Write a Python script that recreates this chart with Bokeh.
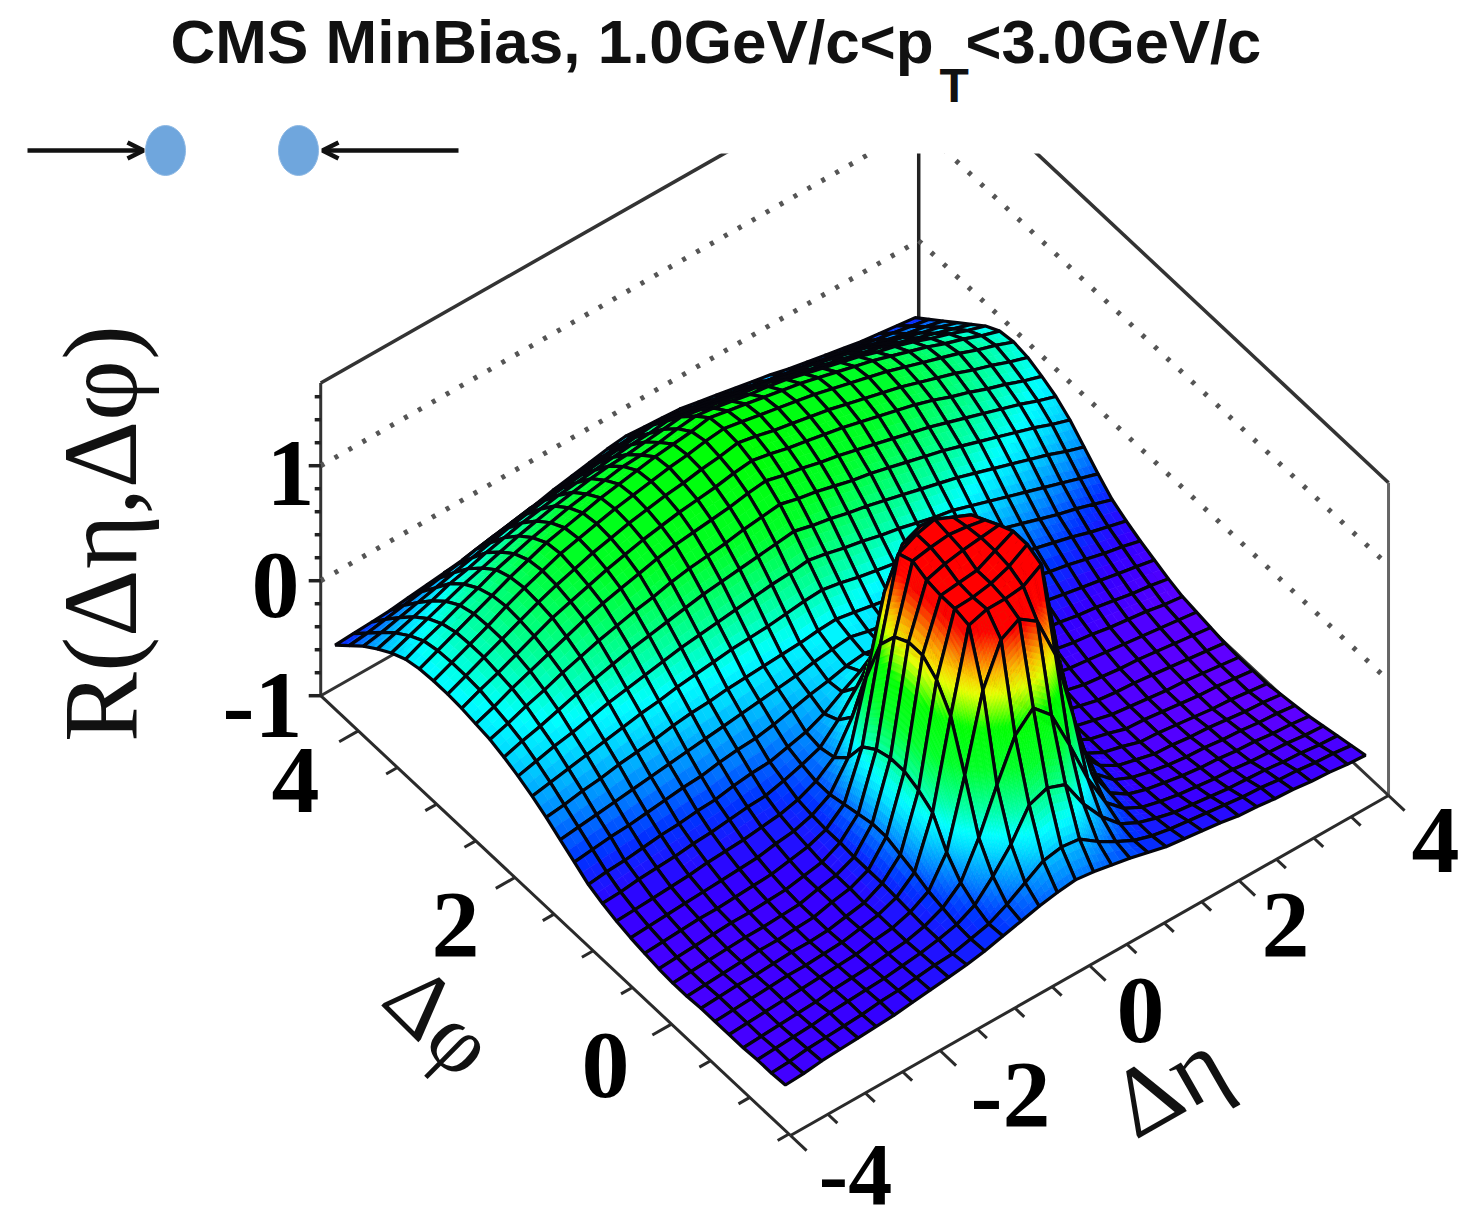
import math
from bokeh.plotting import figure
from bokeh.models import Range1d, ColumnDataSource, Arrow, OpenHead
from bokeh.embed import file_html
from bokeh.resources import INLINE
from bokeh.core.properties import value

TITLE_MAIN = "CMS MinBias, 1.0GeV/c<p"
TITLE_SUB = "T"
TITLE_END = "<3.0GeV/c"
Z_TITLE = "R(Δη,Δφ)"
ETA_TITLE = "Δη"
PHI_TITLE = "Δφ"
ETA_LABELS = [-4, -2, 0, 2, 4]
PHI_LABELS = [0, 2, 4]
Z_LABELS = [-1, 0, 1]
ETA_RANGE = (-4.0, 4.0)
PHI_RANGE = (-1.52, 4.48)
Z_RANGE = (-1.0, 1.72)
ETA_NODES = (-3.88, 3.88)   # surface extent, 33 nodes
PHI_NODES = (-1.34, 4.41)   # surface extent, 33 nodes

# R(Δη,Δφ)+1, in hundredths: one row per Δφ node (near to far),
# one column per Δη node (left to right)
surface_rows = [
[28,29,31,32,33,34,35,37,39,41,43,46,50,54,58,61,63,61,58,55,51,47,45,43,41,38,37,35,34,32,31,29,28],
[27,28,30,31,32,33,35,36,38,40,41,45,49,57,67,77,80,78,67,58,50,45,42,40,38,36,34,33,31,30,28,27,25],
[27,28,29,30,32,33,34,35,37,39,42,46,54,70,89,114,120,114,88,68,53,45,40,36,34,32,30,29,28,26,25,23,22],
[26,27,28,29,30,32,33,34,36,38,42,49,62,92,129,163,178,163,128,90,60,46,38,34,31,29,27,26,24,23,22,20,19],
[26,27,28,29,30,31,32,33,36,38,43,52,77,135,200,235,244,233,195,132,74,48,38,33,30,27,25,24,22,21,19,18,16],
[26,27,28,29,30,30,31,32,35,38,44,57,100,175,245,250,250,252,262,170,95,53,39,32,28,25,23,22,20,19,17,16,14],
[26,27,28,28,29,30,30,31,34,37,45,61,108,195,248,249,252,258,268,190,105,57,40,31,27,23,22,20,19,17,15,14,12],
[25,26,27,28,29,29,30,31,35,38,45,65,113,205,248,250,252,260,268,200,109,60,39,31,27,22,21,19,17,15,14,12,10],
[25,26,27,28,29,29,30,31,35,38,45,65,113,205,250,255,258,260,262,200,109,60,39,31,27,22,21,19,17,15,14,12,10],
[26,27,28,29,30,30,31,32,35,38,46,62,109,198,255,258,260,258,255,195,105,57,40,31,27,23,21,19,17,16,14,12,10],
[28,29,30,31,31,32,33,34,37,40,46,59,100,180,250,258,262,255,248,172,95,54,40,32,28,24,22,21,19,17,15,13,11],
[30,31,32,33,34,35,36,37,40,42,47,56,79,140,205,238,245,236,200,135,74,49,39,33,30,26,24,22,21,19,17,15,13],
[33,34,35,36,37,39,40,41,43,45,49,56,68,94,132,167,178,165,130,90,63,49,41,36,32,29,27,25,23,21,19,17,15],
[37,38,40,41,42,44,45,47,49,50,54,59,65,80,99,121,127,120,96,76,59,51,45,40,37,34,31,29,26,24,22,19,17],
[42,44,45,47,49,50,52,53,56,58,59,63,67,74,84,93,96,92,80,69,61,55,49,46,43,39,37,34,32,29,26,24,21],
[50,52,54,55,57,59,61,62,65,67,68,71,75,79,82,86,88,85,79,74,68,63,58,55,51,47,44,41,38,35,32,29,26],
[58,60,62,64,66,68,70,72,74,76,78,80,82,84,87,89,91,87,84,79,75,72,68,64,60,56,53,49,46,42,38,35,31],
[66,68,71,73,76,78,80,83,85,86,88,89,90,91,92,94,95,92,89,86,83,80,76,73,70,66,62,58,54,50,45,41,37],
[73,76,79,82,85,88,91,93,96,98,100,102,103,104,106,108,109,106,102,99,96,92,89,85,81,77,73,68,63,58,54,49,44],
[79,83,87,90,94,98,101,104,107,110,112,114,116,118,120,121,123,120,116,113,109,106,102,98,95,90,85,80,75,70,65,60,55],
[84,89,93,98,103,107,111,115,118,121,124,127,129,131,133,135,137,133,130,126,123,119,115,111,107,103,98,93,88,83,78,72,67],
[88,93,99,104,110,115,120,124,128,131,135,138,140,142,145,147,149,145,142,138,134,131,127,123,119,115,110,105,100,95,90,84,79],
[90,96,103,109,115,121,127,132,136,140,144,147,149,151,153,156,158,154,151,147,144,140,136,132,128,124,119,114,109,104,99,93,88],
[92,99,105,112,119,126,131,136,141,145,149,152,155,157,159,162,164,161,157,154,151,148,144,140,136,132,127,121,116,110,105,99,94],
[93,100,107,114,121,128,134,139,144,148,152,155,158,160,163,165,168,165,161,158,155,152,148,144,140,136,131,126,121,115,110,104,99],
[93,100,107,114,122,129,135,141,145,149,153,156,159,162,164,167,169,166,163,160,157,154,150,146,142,138,133,128,123,118,112,107,101],
[92,99,106,113,120,127,133,139,143,147,151,154,157,160,162,164,167,164,161,158,155,152,148,144,140,136,131,126,121,115,110,104,99],
[89,96,102,109,115,122,127,132,136,140,143,146,149,150,152,155,157,155,152,149,147,144,140,136,132,128,123,119,114,108,103,97,92],
[83,89,95,101,107,112,117,122,126,130,133,136,138,139,141,143,145,142,139,136,134,131,127,123,119,115,111,107,102,97,92,87,82],
[75,80,85,90,96,100,105,109,113,116,119,121,123,125,127,128,130,127,125,122,119,116,113,110,107,103,99,95,90,86,81,77,72],
[66,69,73,77,81,85,89,93,97,100,103,105,107,109,111,113,115,113,111,108,105,102,98,95,92,88,84,81,77,73,69,66,62],
[55,57,60,63,66,69,72,76,79,82,85,87,90,92,94,96,98,97,95,92,89,86,83,79,76,73,70,67,64,61,58,55,52],
[44,45,46,47,49,51,53,55,58,61,64,67,71,74,77,80,82,81,80,79,76,73,70,67,64,60,57,54,51,48,46,44,42],
]

# colour scale: height above the floor -> rgb
COLOR_STOPS = [
 (0.15,(95,0,255)),(0.35,(50,0,255)),(0.50,(0,50,255)),(0.65,(0,130,255)),(0.85,(0,220,255)),
 (0.95,(0,255,255)),(1.10,(0,255,170)),(1.40,(0,255,40)),(1.70,(0,255,0)),(1.80,(100,255,0)),
 (1.95,(230,255,0)),(2.10,(255,190,0)),(2.25,(255,90,0)),(2.38,(255,0,0)),
]

def color_of(w):
    if w <= COLOR_STOPS[0][0]:
        return "#%02x%02x%02x" % COLOR_STOPS[0][1]
    for (a, ca), (b, cb) in zip(COLOR_STOPS, COLOR_STOPS[1:]):
        if w <= b:
            t = (w - a) / (b - a)
            return "#%02x%02x%02x" % tuple(int(round(ca[j] + (cb[j] - ca[j]) * t)) for j in range(3))
    return "#%02x%02x%02x" % COLOR_STOPS[-1][1]

# oblique view of the box, in the picture's pixels
X0, Y0 = 970.0, 853.6
AX_ETA, AX_PHI = 74.75, -78.3
AY_ETA, AY_PHI = -42.5, -73.3
AY_Z = -115.0

def proj(eta, phi, z):
    return (X0 + AX_ETA * eta + AX_PHI * phi,
            Y0 + AY_ETA * eta + AY_PHI * phi + AY_Z * (z + 1.0))

p = figure(width=1465, height=1223, x_range=Range1d(0, 1465), y_range=Range1d(1223, 0),
           toolbar_location=None, output_backend="svg", min_border=0, outline_line_color=None)
p.axis.visible = False
p.grid.visible = False

INK = "#2a2a2a"

def seg(a, b, color=INK, width=2.5, dash="solid"):
    p.line([a[0], b[0]], [a[1], b[1]], line_color=color, line_width=width, line_dash=dash)

e0, e1 = ETA_RANGE
f0, f1 = PHI_RANGE
z0, z1 = Z_RANGE
# walls
seg(proj(e0, f1, z0), proj(e0, f1, z1), "#333333", 3)
seg(proj(e0, f1, z1), proj(e1, f1, z1), "#333333", 3.5)
seg(proj(e1, f1, z0), proj(e1, f1, z1), "#222222", 3.5)
seg(proj(e1, f0, z1), proj(e1, f1, z1), "#333333", 3.5)
seg(proj(e1, f0, z0), proj(e1, f0, z1), "#666666", 3)
seg(proj(e0, f1, z0), proj(e1, f1, z0), "#333333", 3)
seg(proj(e1, f0, z0), proj(e1, f1, z0), "#333333", 3)
for zv in [0, 1]:
    seg(proj(e0, f1, zv), proj(e1, f1, zv), "#555555", 5, "4 12")
    seg(proj(e1, f1, zv), proj(e1, f0, zv), "#555555", 5, "4 13")

# white band that crops the top of the box
p.quad(left=[0], right=[1465], top=[0], bottom=[153], fill_color="white", line_color=None)

# floor axes with ticks
seg(proj(e0, f1, z0), proj(e0, f0, z0), INK, 3)
seg(proj(e0, f0, z0), proj(e1, f0, z0), INK, 3)

def unit(dx, dy):
    n = math.hypot(dx, dy)
    return dx / n, dy / n

ux, uy = unit(-AX_ETA, -AY_ETA)
for n in range(0, 13):
    f = 4.0 - 0.5 * n
    if f < f0:
        break
    L = 22 if n % 4 == 0 else 13
    a = proj(e0, f, z0)
    seg(a, (a[0] + ux * L, a[1] + uy * L), INK, 3)
vx, vy = unit(-AX_PHI, -AY_PHI)
for n in range(0, 17):
    e = -4.0 + 0.5 * n
    L = 22 if n % 4 == 0 else 13
    a = proj(e, f0, z0)
    seg(a, (a[0] + vx * L, a[1] + vy * L), INK, 3)
for n in range(0, 14):
    zv = -1.0 + 0.2 * n
    a = proj(e0, f1, zv)
    L = 12 if n % 5 == 0 else 6
    seg(a, (a[0] - L, a[1]), "#222222", 3.5)

# surface, far cells first
NK = len(surface_rows)
NI = len(surface_rows[0])
xs, ys, fills, fa, lines, lw = [], [], [], [], [], []

def node(i, k, di=0.0, dk=0.0):
    u = i + di
    v = k + dk
    i0 = min(int(u), NI - 2)
    k0 = min(int(v), NK - 2)
    a, b = u - i0, v - k0
    w = ((1 - a) * (1 - b) * surface_rows[k0][i0] + a * (1 - b) * surface_rows[k0][i0 + 1]
         + (1 - a) * b * surface_rows[k0 + 1][i0] + a * b * surface_rows[k0 + 1][i0 + 1]) / 100.0
    eta = ETA_NODES[0] + (ETA_NODES[1] - ETA_NODES[0]) * u / (NI - 1)
    phi = PHI_NODES[0] + (PHI_NODES[1] - PHI_NODES[0]) * v / (NK - 1)
    return proj(eta, phi, w - 1.0), w

for k in range(NK - 2, -1, -1):
    for i in range(NI - 2, -1, -1):
        corners = [surface_rows[k][i], surface_rows[k][i + 1], surface_rows[k + 1][i], surface_rows[k + 1][i + 1]]
        n = max(1, min(14, math.ceil((max(corners) - min(corners)) / 100.0 / 0.06)))
        for sb in range(n - 1, -1, -1):
            for sa in range(n - 1, -1, -1):
                pts = [node(i, k, sa / n, sb / n), node(i, k, (sa + 1) / n, sb / n),
                       node(i, k, (sa + 1) / n, (sb + 1) / n), node(i, k, sa / n, (sb + 1) / n)]
                xs.append([q[0][0] for q in pts])
                ys.append([q[0][1] for q in pts])
                c = color_of(sum(q[1] for q in pts) / 4.0)
                fills.append(c); fa.append(1.0); lines.append(c); lw.append(0.6)
        pts = [node(i, k), node(i + 1, k), node(i + 1, k + 1), node(i, k + 1)]
        xs.append([q[0][0] for q in pts])
        ys.append([q[0][1] for q in pts])
        fills.append("#000000"); fa.append(0.0); lines.append("#05050c"); lw.append(3.2)

p.patches("xs", "ys", source=ColumnDataSource(dict(xs=xs, ys=ys, f=fills, a=fa, l=lines, w=lw)),
          fill_color="f", fill_alpha="a", line_color="l", line_width="w")

# texts
SANS = value("Liberation Sans")
SERIF = value("Liberation Serif")

def label(x, y, s, size, font=SERIF, style="bold", angle=0.0, align="center", base="middle", color="black"):
    p.text([x], [y], text=[s], text_font=font, text_font_size=value("%gpx" % size), text_font_style=value(style),
           text_align=value(align), text_baseline=value(base), angle=angle, text_color=color)

label(170, 41, TITLE_MAIN, 62, SANS, "bold", align="left", base="alphabetic", color="#111111")
label(939, 85, TITLE_SUB, 48, SANS, "bold", align="left", base="alphabetic", color="#111111")
label(965, 41, TITLE_END, 61.5, SANS, "bold", align="left", base="alphabetic", color="#111111")
label(100, 533, Z_TITLE, 105, SERIF, "normal", angle=math.pi / 2, base="alphabetic", color="#111111")
label(440, 1020, PHI_TITLE, 92, SERIF, "normal", angle=-0.78, color="#111111")
label(1168, 1083, ETA_TITLE, 98, SERIF, "normal", angle=0.52, color="#111111")

for v, (x, y) in zip(Z_LABELS, [(262, 705), (275, 585), (290, 473)]):
    label(x, y, str(v), 96)
for v, (x, y) in zip(PHI_LABELS, [(605, 1065), (455, 925), (295, 780)]):
    label(x, y, str(v), 96)
for v, (x, y, s) in zip(ETA_LABELS, [(855, 1174, 88), (1010, 1095, 96), (1140, 1010, 96), (1285, 925, 96), (1435, 840, 96)]):
    label(x, y, str(v), s)

# colliding beams sketch
for cx in [165, 298]:
    p.ellipse([cx], [150], width=40, height=50, fill_color="#6fa6dd", line_color="#8db8e4", line_width=1)
p.add_layout(Arrow(end=OpenHead(size=16, line_width=4.5, line_color="#111111"), x_start=27, y_start=150, x_end=143, y_end=150,
                   line_color="#111111", line_width=4.5))
p.add_layout(Arrow(end=OpenHead(size=16, line_width=4.5, line_color="#111111"), x_start=458, y_start=150, x_end=322, y_end=150,
                   line_color="#111111", line_width=4.5))

open("out.html", "w").write(file_html(p, INLINE))
